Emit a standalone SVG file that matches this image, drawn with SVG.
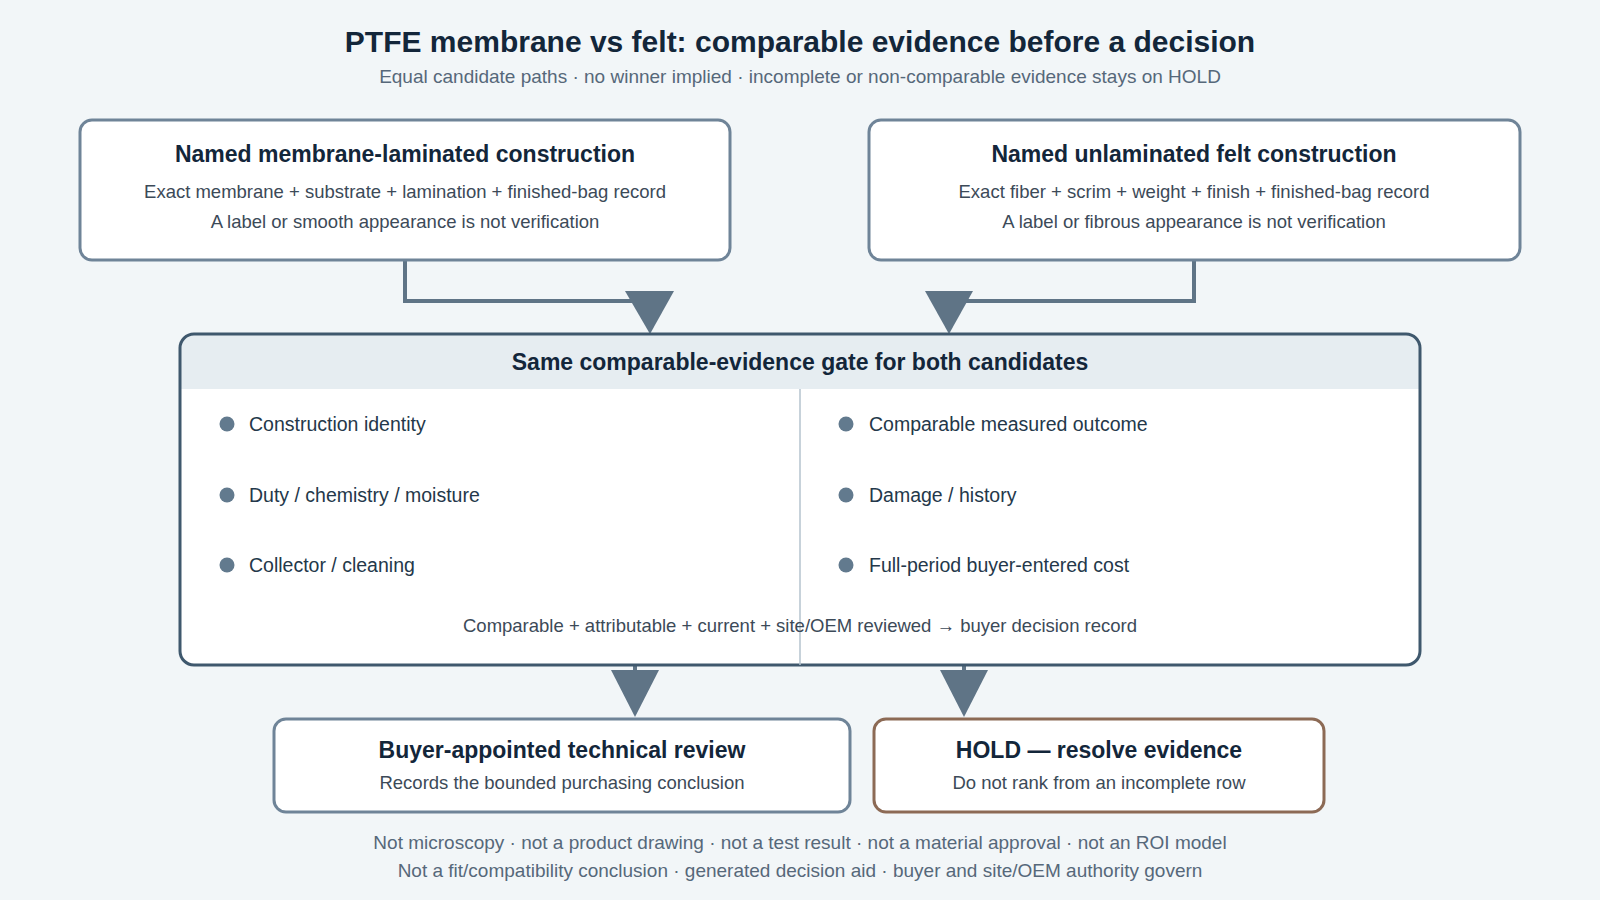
<svg xmlns="http://www.w3.org/2000/svg" width="1600" height="900" viewBox="0 0 1600 900">
<style>
text{font-family:"Liberation Sans",Arial,sans-serif;text-anchor:middle}
.t{font-size:30px;font-weight:bold;fill:#13263a}
.s{font-size:19px;fill:#56687a}
.h{font-size:23px;font-weight:bold;fill:#13263a}
.b{font-size:18.5px;fill:#3c4a58}
.li{font-size:19.5px;fill:#24384a;text-anchor:start}
.box{fill:#fff;stroke:#6f8498;stroke-width:3}
.conn{fill:none;stroke:#5f7486;stroke-width:4}
.tri{fill:#5f7486}
.dot{fill:#627a8e}
</style>
<rect width="1600" height="900" fill="#f2f6f8"/>
<text class="t" x="800" y="52">PTFE membrane vs felt: comparable evidence before a decision</text>
<text class="s" x="800" y="83">Equal candidate paths · no winner implied · incomplete or non-comparable evidence stays on HOLD</text>
<g id="connectors">
<polyline class="conn" points="405,260 405,301 650,301"/>
<polygon class="tri" points="625,291 674,291 650,334"/>
<polyline class="conn" points="1194,260 1194,301 949,301"/>
<polygon class="tri" points="925,291 973,291 949,334"/>
<line class="conn" x1="635" y1="665" x2="635" y2="672"/>
<polygon class="tri" points="611,670 659,670 635,717"/>
<line class="conn" x1="964" y1="665" x2="964" y2="672"/>
<polygon class="tri" points="940,670 988,670 964,717"/>
</g>
<g id="membrane">
<rect class="box" x="80" y="120" width="650" height="140" rx="12"/>
<text class="h" x="405" y="162">Named membrane-laminated construction</text>
<text class="b" x="405" y="198">Exact membrane + substrate + lamination + finished-bag record</text>
<text class="b" x="405" y="228">A label or smooth appearance is not verification</text>
</g>
<g id="felt">
<rect class="box" x="869" y="120" width="651" height="140" rx="12"/>
<text class="h" x="1194" y="162">Named unlaminated felt construction</text>
<text class="b" x="1194" y="198">Exact fiber + scrim + weight + finish + finished-bag record</text>
<text class="b" x="1194" y="228">A label or fibrous appearance is not verification</text>
</g>
<g id="gate">
<rect x="180" y="334" width="1240" height="331" rx="14" fill="#fff"/>
<path d="M180,389 V348 A14,14 0 0 1 194,334 H1406 A14,14 0 0 1 1420,348 V389 Z" fill="#e6edf1"/>
<rect x="180" y="334" width="1240" height="331" rx="14" fill="none" stroke="#3f586d" stroke-width="3"/>
<text class="h" x="800" y="370">Same comparable-evidence gate for both candidates</text>
<line x1="800" y1="389" x2="800" y2="665" stroke="#b5c3ce" stroke-width="1.5"/>
<circle class="dot" cx="227" cy="424" r="7.5"/><text class="li" x="249" y="431">Construction identity</text>
<circle class="dot" cx="227" cy="495" r="7.5"/><text class="li" x="249" y="502">Duty / chemistry / moisture</text>
<circle class="dot" cx="227" cy="565" r="7.5"/><text class="li" x="249" y="572">Collector / cleaning</text>
<circle class="dot" cx="846" cy="424" r="7.5"/><text class="li" x="869" y="431">Comparable measured outcome</text>
<circle class="dot" cx="846" cy="495" r="7.5"/><text class="li" x="869" y="502">Damage / history</text>
<circle class="dot" cx="846" cy="565" r="7.5"/><text class="li" x="869" y="572">Full-period buyer-entered cost</text>
<text class="b" x="800" y="632">Comparable + attributable + current + site/OEM reviewed → buyer decision record</text>
</g>
<g id="review">
<rect class="box" x="274" y="719" width="576" height="93" rx="12"/>
<text class="h" x="562" y="758">Buyer-appointed technical review</text>
<text class="b" x="562" y="789">Records the bounded purchasing conclusion</text>
</g>
<g id="hold">
<rect x="874" y="719" width="450" height="93" rx="12" fill="#fff" stroke="#8c6a55" stroke-width="3"/>
<text class="h" x="1099" y="758">HOLD — resolve evidence</text>
<text class="b" x="1099" y="789">Do not rank from an incomplete row</text>
</g>
<text class="s" x="800" y="849">Not microscopy · not a product drawing · not a test result · not a material approval · not an ROI model</text>
<text class="s" x="800" y="877">Not a fit/compatibility conclusion · generated decision aid · buyer and site/OEM authority govern</text>
</svg>
